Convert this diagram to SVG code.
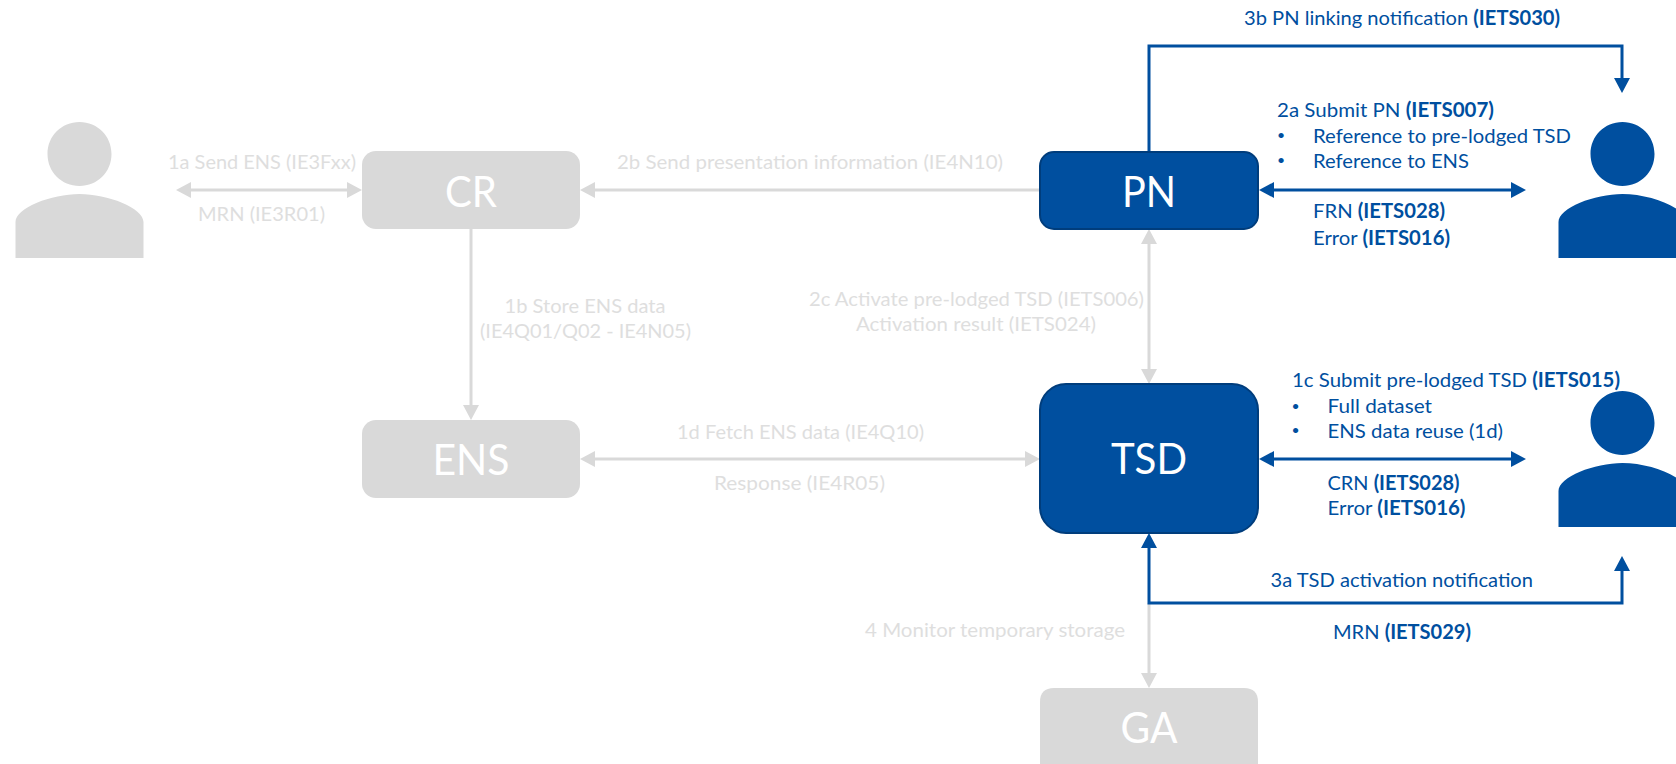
<svg xmlns="http://www.w3.org/2000/svg" width="1676" height="764" viewBox="0 0 1676 764">
<defs>
<style>
text{font-family:"Lato","Noto Sans","Liberation Sans",sans-serif;font-size:20px}
.b{fill:#004f9f}.g{fill:#d9d9d9}
.tg{fill:#dedede}
tspan.h{font-weight:700}
.n{font-size:42px;fill:#fff;text-anchor:middle}
.d{font-size:14px}
.cg{fill:none;stroke:#d9d9d9;stroke-width:3}
.cb{fill:none;stroke:#004f9f;stroke-width:3}
.bx{stroke:#003d7c;stroke-width:2}
</style>
<marker id="ag" markerUnits="userSpaceOnUse" markerWidth="16" markerHeight="16" refX="0" refY="8" orient="auto-start-reverse"><path d="M0 0L15 8L0 16Z" fill="#d9d9d9"/></marker>
<marker id="ab" markerUnits="userSpaceOnUse" markerWidth="16" markerHeight="16" refX="0" refY="8" orient="auto-start-reverse"><path d="M0 0L15 8L0 16Z" fill="#004f9f"/></marker>
<path id="person" d="M0 32C0 14 14 0 32 0S64 14 64 32S50 64 32 64S0 50 0 32ZM-32 136V100C-32 86 4 72 32 72C60 72 96 86 96 100V136Z"/>
</defs>
<rect width="1676" height="764" fill="#fff"/>
<g id="connectors">
<path class="cg" marker-start="url(#ag)" marker-end="url(#ag)" d="M191 190H347"/>
<path class="cg" marker-end="url(#ag)" d="M1040 190H595"/>
<path class="cg" marker-end="url(#ag)" d="M471 229V405"/>
<path class="cg" marker-start="url(#ag)" marker-end="url(#ag)" d="M595 459H1025"/>
<path class="cg" marker-start="url(#ag)" marker-end="url(#ag)" d="M1149 244V369"/>
<path class="cg" marker-end="url(#ag)" d="M1149 603V673"/>
<path class="cb" marker-end="url(#ab)" d="M1149 152V46H1622V78"/>
<path class="cb" marker-start="url(#ab)" marker-end="url(#ab)" d="M1274 190H1511"/>
<path class="cb" marker-start="url(#ab)" marker-end="url(#ab)" d="M1274 459H1511"/>
<path class="cb" marker-start="url(#ab)" marker-end="url(#ab)" d="M1149 548V603H1622V571"/>
</g>
<g id="actor-left"><use href="#person" x="47.500" y="122" class="g"/></g>
<g id="actor-pn"><use href="#person" x="1590.500" y="122" class="b"/></g>
<g id="actor-tsd"><use href="#person" x="1590.500" y="391" class="b"/></g>
<g id="node-cr"><rect x="362" y="151" width="218" height="78" rx="14" class="g"/><text class="n" x="471" y="207" textLength="52" lengthAdjust="spacingAndGlyphs">CR</text></g>
<g id="node-ens"><rect x="362" y="420" width="218" height="78" rx="14" class="g"/><text class="n" x="471" y="475" textLength="77" lengthAdjust="spacingAndGlyphs">ENS</text></g>
<g id="node-pn"><rect x="1040" y="152" width="218" height="77" rx="14" class="b bx"/><text class="n" x="1149" y="207" textLength="54" lengthAdjust="spacingAndGlyphs">PN</text></g>
<g id="node-tsd"><rect x="1040" y="384" width="218" height="149" rx="26" class="b bx"/><text class="n" x="1149" y="474" textLength="76" lengthAdjust="spacingAndGlyphs">TSD</text></g>
<g id="node-ga"><path d="M1054 688H1244Q1258 688 1258 702V764H1040V702Q1040 688 1054 688Z" class="g"/><text class="n" x="1149" y="743" textLength="57" lengthAdjust="spacingAndGlyphs">GA</text></g>
<g id="labels-grey" class="tg">
<text x="168" y="169" textLength="188" lengthAdjust="spacingAndGlyphs">1a Send ENS (IE3Fxx)</text>
<text x="198" y="221" textLength="127" lengthAdjust="spacingAndGlyphs">MRN (IE3R01)</text>
<text x="504.500" y="313" textLength="161" lengthAdjust="spacingAndGlyphs">1b Store ENS data</text>
<text x="480" y="338" textLength="211" lengthAdjust="spacingAndGlyphs">(IE4Q01/Q02 - IE4N05)</text>
<text x="617" y="169" textLength="386" lengthAdjust="spacingAndGlyphs">2b Send presentation information (IE4N10)</text>
<text x="677" y="439" textLength="247" lengthAdjust="spacingAndGlyphs">1d Fetch ENS data (IE4Q10)</text>
<text x="714" y="490" textLength="171" lengthAdjust="spacingAndGlyphs">Response (IE4R05)</text>
<text x="809" y="306" textLength="335" lengthAdjust="spacingAndGlyphs">2c Activate pre-lodged TSD (IETS006)</text>
<text x="856" y="331" textLength="240" lengthAdjust="spacingAndGlyphs">Activation result (IETS024)</text>
<text x="865" y="637" textLength="260" lengthAdjust="spacingAndGlyphs">4 Monitor temporary storage</text>
</g>
<g id="labels-blue" class="b">
<text x="1244" y="25" textLength="316" lengthAdjust="spacingAndGlyphs">3b PN linking notification <tspan class="h">(IETS030)</tspan></text>
<text x="1277" y="117" textLength="217" lengthAdjust="spacingAndGlyphs">2a Submit PN <tspan class="h">(IETS007)</tspan></text>
<text class="d" x="1277" y="140">•</text>
<text x="1313" y="143" textLength="258" lengthAdjust="spacingAndGlyphs">Reference to pre-lodged TSD</text>
<text class="d" x="1277" y="165">•</text>
<text x="1313" y="168" textLength="156" lengthAdjust="spacingAndGlyphs">Reference to ENS</text>
<text x="1313" y="218" textLength="132" lengthAdjust="spacingAndGlyphs">FRN <tspan class="h">(IETS028)</tspan></text>
<text x="1313" y="245" textLength="137" lengthAdjust="spacingAndGlyphs">Error <tspan class="h">(IETS016)</tspan></text>
<text x="1292" y="387" textLength="328" lengthAdjust="spacingAndGlyphs">1c Submit pre-lodged TSD <tspan class="h">(IETS015)</tspan></text>
<text class="d" x="1291.500" y="411">•</text>
<text x="1327.500" y="413" textLength="104.500" lengthAdjust="spacingAndGlyphs">Full dataset</text>
<text class="d" x="1291.500" y="435">•</text>
<text x="1327.500" y="438" textLength="175.500" lengthAdjust="spacingAndGlyphs">ENS data reuse (1d)</text>
<text x="1327.500" y="490" textLength="132" lengthAdjust="spacingAndGlyphs">CRN <tspan class="h">(IETS028)</tspan></text>
<text x="1327.500" y="515" textLength="138" lengthAdjust="spacingAndGlyphs">Error <tspan class="h">(IETS016)</tspan></text>
<text x="1270.500" y="587" textLength="262.500" lengthAdjust="spacingAndGlyphs">3a TSD activation notification</text>
<text x="1333" y="639" textLength="138" lengthAdjust="spacingAndGlyphs">MRN <tspan class="h">(IETS029)</tspan></text>
</g>
</svg>
